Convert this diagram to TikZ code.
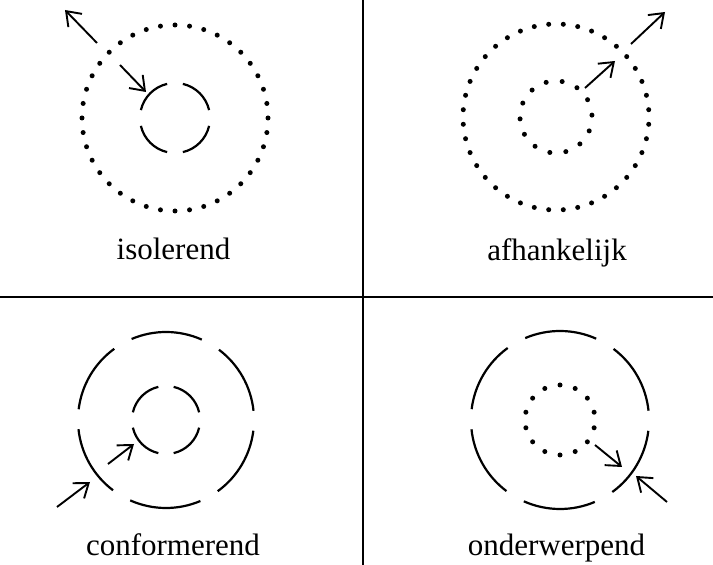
\documentclass[tikz,border=0pt]{standalone}
\usepackage{fontspec}
\setmainfont{Liberation Serif}
\usetikzlibrary{arrows.meta}

\begin{document}
\begin{tikzpicture}[x=1pt, y=1pt,
    ring/.style={line width=2.2pt},
    dot/.style={fill=black},
    arr/.style={-{Straight Barb[length=13pt,width=19pt]}, line width=1.9pt},
    lbl/.style={font=\fontsize{31}{36}\selectfont, anchor=base, inner sep=0pt},
    sep/.style={line width=2pt}
  ]
    \useasboundingbox (0,0) rectangle (713,565);

    % --- dividers ---
    \coordinate (vtop) at (363,565);
    \coordinate (vbot) at (363,0);
    \coordinate (hleft) at (0,268);
    \coordinate (hright) at (713,268);
    \draw[sep] (vtop) -- (vbot);
    \draw[sep] (hleft) -- (hright);

    % --- top left: isolerend ---
    \coordinate (c1) at (175,447);
    \foreach \i in {0,...,39}
      \fill[dot] (c1) ++(\i*9:93pt) circle[radius=2.5pt];
    \foreach \a in {0,90,180,270}
      \draw[ring] (c1) ++(\a+13:35pt) arc[start angle=\a+13, end angle=\a+77, radius=35pt];
    \coordinate (i1s) at (97,522);  \coordinate (i1e) at (65,555);
    \coordinate (i2s) at (120,500); \coordinate (i2e) at (146,473);
    \draw[arr] (i1s) -- (i1e);
    \draw[arr] (i2s) -- (i2e);
    \node[lbl] (isol) at (173.5,305) {isolerend};

    % --- top right: afhankelijk ---
    \coordinate (c2) at (556,448);
    \foreach \i in {0,...,39}
      \fill[dot] (c2) ++(4.5+\i*9:93pt) circle[radius=2.5pt];
    \foreach \i in {0,...,13}
      \fill[dot] (c2) ++(3+\i*360/14:36pt) circle[radius=2.5pt];
    \coordinate (a1s) at (585,477); \coordinate (a1e) at (615,504);
    \coordinate (a2s) at (631,521); \coordinate (a2e) at (665,553);
    \draw[arr] (a1s) -- (a1e);
    \draw[arr] (a2s) -- (a2e);
    \node[lbl] (afh) at (557,304) {afhankelijk};

    % --- bottom left: conformerend ---
    \coordinate (c3) at (166,145);
    \foreach \a in {0,60,...,300}
      \draw[ring] (c3) ++(\a+6:88pt) arc[start angle=\a+6, end angle=\a+53, radius=88pt];
    \foreach \a in {0,90,180,270}
      \draw[ring] (c3) ++(\a+13:34pt) arc[start angle=\a+13, end angle=\a+77, radius=34pt];
    \coordinate (k1s) at (57,58);   \coordinate (k1e) at (90,83);
    \coordinate (k2s) at (108,101); \coordinate (k2e) at (134,121);
    \draw[arr] (k1s) -- (k1e);
    \draw[arr] (k2s) -- (k2e);
    \node[lbl] (conf) at (173,9) {conformerend};

    % --- bottom right: onderwerpend ---
    \coordinate (c4) at (560,145);
    \foreach \a in {0,60,...,300}
      \draw[ring] (c4) ++(\a+6:89pt) arc[start angle=\a+6, end angle=\a+53, radius=89pt];
    \foreach \i in {0,...,13}
      \fill[dot] (c4) ++(90+\i*360/14:35pt) circle[radius=2.5pt];
    \coordinate (o1s) at (595,120); \coordinate (o1e) at (622,98);
    \coordinate (o2s) at (667,63);  \coordinate (o2e) at (636,89);
    \draw[arr] (o1s) -- (o1e);
    \draw[arr] (o2s) -- (o2e);
    \node[lbl] (onder) at (556.5,9) {onderwerpend};
\end{tikzpicture}
\end{document}
